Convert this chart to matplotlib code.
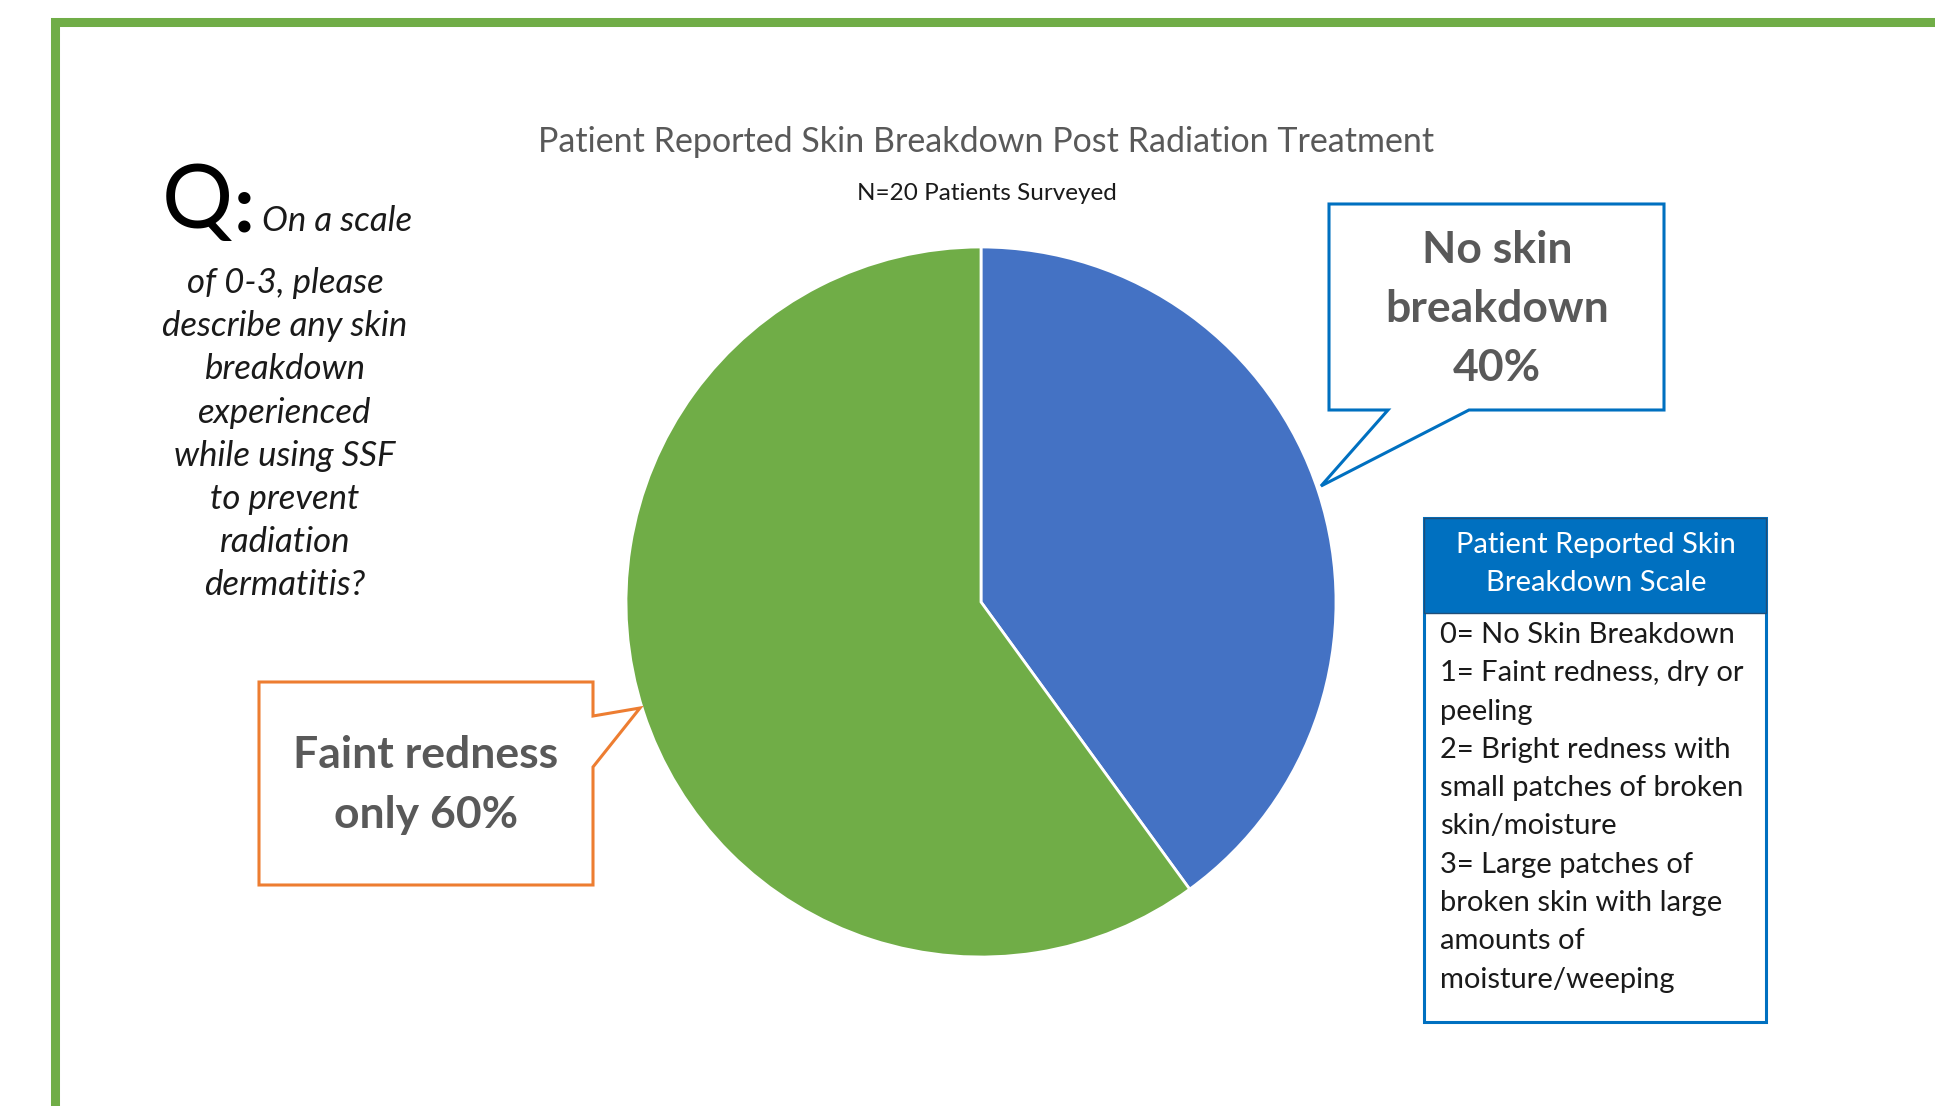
import matplotlib
matplotlib.use("Agg")
import matplotlib.pyplot as plt
from matplotlib.patches import Polygon, Rectangle

# data
categories = ['No skin breakdown', 'Faint redness only']
shares = [40, 60]
slice_colors = ['#4472C4', '#70AD47']
title = 'Patient Reported Skin Breakdown Post Radiation Treatment'
subtitle = 'N=20 Patients Surveyed'
question_lines = ['of 0-3, please', 'describe any skin', 'breakdown', 'experienced',
                  'while using SSF', 'to prevent', 'radiation', 'dermatitis?']
scale_title = 'Patient Reported Skin\nBreakdown Scale'
scale_lines = ['0= No Skin Breakdown', '1= Faint redness, dry or', 'peeling',
               '2= Bright redness with', 'small patches of broken', 'skin/moisture',
               '3= Large patches of', 'broken skin with large', 'amounts of',
               'moisture/weeping']

W, H = 1935, 1106
plt.rcParams['font.family'] = ['Lato', 'DejaVu Sans']

fig = plt.figure(figsize=(W / 100, H / 100), dpi=100)
ax = fig.add_axes([0, 0, 1, 1])


def Y(y):
    # pixel rows from the top -> data y
    return H - y


def poly(pts, color, lw=2.2):
    ax.add_patch(Polygon([(x, Y(y)) for x, y in pts], closed=True, facecolor='white',
                         edgecolor=color, linewidth=lw, zorder=3))


# pie
ax.pie(shares, colors=slice_colors, startangle=90, counterclock=False,
       center=(981, Y(602)), radius=355,
       wedgeprops=dict(edgecolor='white', linewidth=2))
ax.set_xlim(0, W)
ax.set_ylim(0, H)
ax.set_aspect('auto')
ax.axis('off')

# green frame
ax.plot([55, 55, W + 10], [-10, Y(22), Y(22)], color='#70AD47', lw=6.5,
        solid_joinstyle='miter')

# titles
ax.text(986, Y(142), title, ha='center', va='center', fontsize=24.5, color='#595959')
ax.text(987, Y(194), subtitle, ha='center', va='center', fontsize=17.5, color='#1a1a1a')

# question
ax.text(162, Y(228), 'Q', ha='left', va='baseline', fontsize=64, color='black')
ax.text(234, Y(231), ':', ha='left', va='baseline', fontsize=58, color='black',
        fontweight='bold')
ax.text(262, Y(231), 'On a scale', ha='left', va='baseline', fontsize=25,
        style='italic', color='#1a1a1a')
for i, line in enumerate(question_lines):
    ax.text(285, Y(283 + i * 43.2), line, ha='center', va='center', fontsize=25,
            style='italic', color='#1a1a1a')

# blue callout
poly([(1329, 204), (1664, 204), (1664, 410), (1469, 410), (1321, 486),
      (1388, 410), (1329, 410)], '#0070C0')
ax.text(1497, Y(309), f'{categories[0][:7]}\n{categories[0][8:]}\n{shares[0]}%',
        ha='center', va='center', fontsize=32, fontweight='bold', color='#595959',
        linespacing=1.58, zorder=4)

# orange callout
poly([(259, 682), (593, 682), (593, 716), (640, 708), (593, 767),
      (593, 885), (259, 885)], '#ED7D31')
ax.text(426, Y(785), f'{categories[1][:13]}\n{categories[1][14:]} {shares[1]}%',
        ha='center', va='center', fontsize=32, fontweight='bold', color='#595959',
        linespacing=1.58, zorder=4)

# scale box
ax.add_patch(Rectangle((1424, Y(1022)), 342, 504, facecolor='white',
                       edgecolor='#0070C0', linewidth=2.2, zorder=3))
ax.add_patch(Rectangle((1424, Y(613)), 342, 95, facecolor='#0070C0',
                       edgecolor='#1F4E79', linewidth=1, zorder=4))
ax.text(1596, Y(564), scale_title, ha='center', va='center', fontsize=21,
        color='white', linespacing=1.6, zorder=5)
for i, line in enumerate(scale_lines):
    ax.text(1440, Y(635 + i * 38.3), line, ha='left', va='center', fontsize=21,
            color='#1a1a1a', zorder=5)

fig.savefig('out.png', dpi=100, facecolor='white')
